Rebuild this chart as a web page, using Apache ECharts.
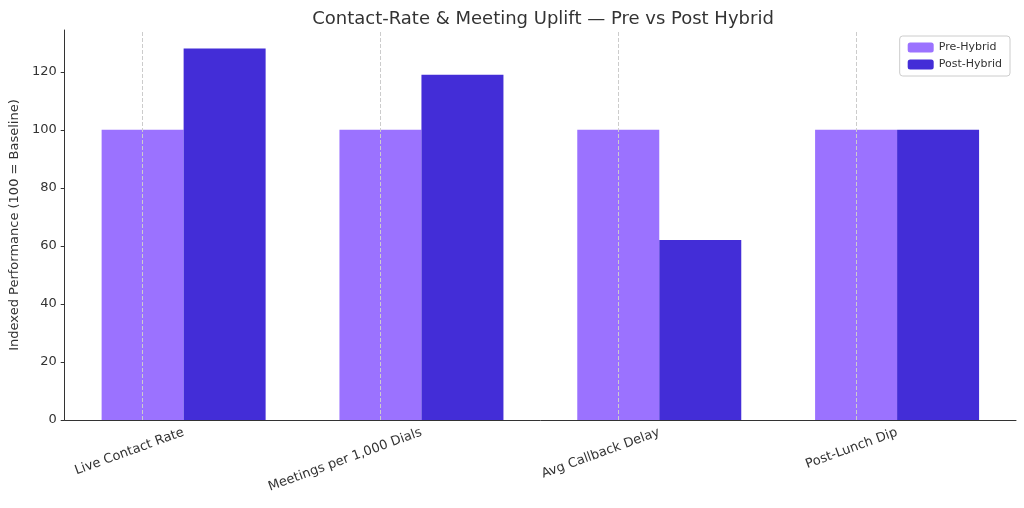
<!DOCTYPE html>
<html><head><meta charset="utf-8">
<script src="https://cdn.jsdelivr.net/npm/echarts@6/dist/echarts.min.js"></script>
<style>html,body{margin:0;padding:0;background:#fff}#c{width:1024px;height:508px}</style>
</head><body><div id="c"></div>
<script>
var categories = ['Live Contact Rate', 'Meetings per 1,000 Dials', 'Avg Callback Delay', 'Post-Lunch Dip'];
var preHybrid = [100, 100, 100, 100];
var postHybrid = [128, 119, 62, 100];

var chart = echarts.init(document.getElementById('c'));
var font = 'DejaVu Sans';
chart.setOption({
  animation: false,
  textStyle: { fontFamily: font },
  title: {
    text: 'Contact-Rate & Meeting Uplift — Pre vs Post Hybrid',
    left: 538, top: 5, textAlign: 'center',
    textStyle: { fontSize: 18, fontWeight: 'normal', color: '#333', fontFamily: font }
  },
  legend: {
    right: 14, top: 36, orient: 'vertical', itemGap: 6,
    itemWidth: 26, itemHeight: 10,
    borderColor: '#ccc', borderWidth: 1, borderRadius: 3, padding: [6, 8],
    textStyle: { fontSize: 11, color: '#333' },
    data: ['Pre-Hybrid', 'Post-Hybrid']
  },
  grid: { left: 60, right: 8, top: 30, bottom: 88 },
  xAxis: {
    type: 'category', data: categories,
    axisLine: { lineStyle: { color: '#333' } },
    axisTick: { show: false },
    axisLabel: { rotate: 20, fontSize: 13, color: '#333', margin: 12 }
  },
  yAxis: {
    type: 'value', min: 0, max: 134.4, interval: 20,
    name: 'Indexed Performance (100 = Baseline)', nameLocation: 'middle', nameGap: 40,
    nameTextStyle: { fontSize: 13, color: '#333' },
    axisLine: { show: true, lineStyle: { color: '#333' } },
    axisTick: { show: true, length: 4 },
    axisLabel: { fontSize: 13, color: '#333', showMaxLabel: false },
    splitLine: { show: false }
  },
  series: [
    {
      name: 'Pre-Hybrid', type: 'bar', data: preHybrid,
      barWidth: 82, barGap: '0%', itemStyle: { color: '#9B72FF' },
      markLine: {
        silent: true, symbol: 'none', label: { show: false },
        lineStyle: { color: '#ccc', type: 'dashed', width: 1 },
        data: categories.map(function (c) { return { xAxis: c }; })
      }
    },
    {
      name: 'Post-Hybrid', type: 'bar', data: postHybrid,
      barWidth: 82, itemStyle: { color: '#432DD7' }
    }
  ]
});
</script></body></html>
